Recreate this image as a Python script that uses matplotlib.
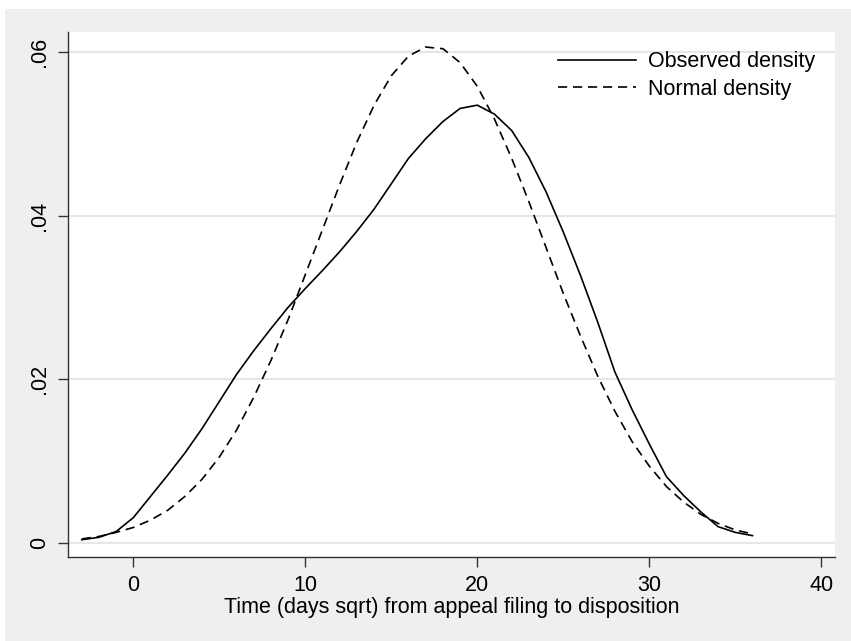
import numpy as np
import matplotlib
matplotlib.use("Agg")
import matplotlib.pyplot as plt
from matplotlib.patches import Rectangle

plt.rcParams['font.family'] = ['Liberation Sans', 'DejaVu Sans']

# ------------------ Data ------------------
x_vals = [-3, -2, -1, 0, 1, 2, 3, 4, 5, 6, 7, 8, 9, 10, 11, 12, 13, 14, 15, 16,
          17, 18, 19, 20, 21, 22, 23, 24, 25, 26, 27, 28, 29, 30, 31, 32, 33, 34, 35, 36]

observed = [0.0004, 0.0007, 0.0014, 0.0031, 0.0057, 0.0083, 0.0110, 0.0140, 0.0173, 0.0206,
            0.0235, 0.0262, 0.0288, 0.0311, 0.0333, 0.0356, 0.0381, 0.0408, 0.0439, 0.0470,
            0.0494, 0.0515, 0.0531, 0.0535, 0.0524, 0.0504, 0.0471, 0.0429, 0.0380, 0.0327,
            0.0270, 0.0209, 0.0163, 0.0121, 0.0081, 0.0058, 0.0038, 0.0020, 0.0013, 0.0009]

normal = [0.0005, 0.0008, 0.0013, 0.0019, 0.0028, 0.0040, 0.0057, 0.0078, 0.0105, 0.0138,
          0.0178, 0.0223, 0.0273, 0.0328, 0.0383, 0.0438, 0.0490, 0.0535, 0.0571, 0.0595,
          0.0606, 0.0604, 0.0587, 0.0558, 0.0518, 0.0470, 0.0417, 0.0361, 0.0305, 0.0253,
          0.0204, 0.0161, 0.0124, 0.0094, 0.0069, 0.0050, 0.0035, 0.0024, 0.0016, 0.0011]

x_ticks = [0, 10, 20, 30, 40]
y_ticks = [0, 0.02, 0.04, 0.06]
y_labels = ['0', '.02', '.04', '.06']

# ------------------ Plot ------------------
fig = plt.figure(figsize=(8.51, 6.41), dpi=100, facecolor='#efefef')
# white strips along top and left edge
fig.patches.append(Rectangle((0, 1 - 9 / 641), 1, 9 / 641, transform=fig.transFigure,
                             facecolor='white', edgecolor='none', zorder=-10))
fig.patches.append(Rectangle((0, 0), 5 / 851, 1, transform=fig.transFigure,
                             facecolor='white', edgecolor='none', zorder=-10))

ax = fig.add_axes([68 / 851, 84 / 641, 767 / 851, 525 / 641])
ax.set_facecolor('white')

ax.plot(x_vals, observed, color='black', lw=1.2, label='Observed density')
ax.plot(x_vals, normal, color='black', lw=1.2, linestyle=(0, (5.5, 3.5)), label='Normal density')

ax.set_xlim(-3.8, 40.8)
ax.set_ylim(-0.00171, 0.06244)

ax.set_xticks(x_ticks)
ax.set_yticks(y_ticks)
ax.set_yticklabels(y_labels, rotation=90, va='center')
ax.tick_params(axis='both', labelsize=15.5, length=7, width=1, color='#333333', pad=6)
ax.yaxis.grid(True, color='#e6e6e6', lw=1.5)
ax.set_axisbelow(True)

for side in ['top', 'right']:
    ax.spines[side].set_visible(False)
for side in ['left', 'bottom']:
    ax.spines[side].set_color('#333333')
    ax.spines[side].set_linewidth(1)

ax.set_xlabel('Time (days sqrt) from appeal filing to disposition', fontsize=15.5, labelpad=1)

ax.legend(loc='upper right', frameon=False, fontsize=15.5, handlelength=3.6,
          handletextpad=0.6, labelspacing=0.3, bbox_to_anchor=(1.0, 1.0))

plt.savefig('out.png', dpi=100, facecolor=fig.get_facecolor())
